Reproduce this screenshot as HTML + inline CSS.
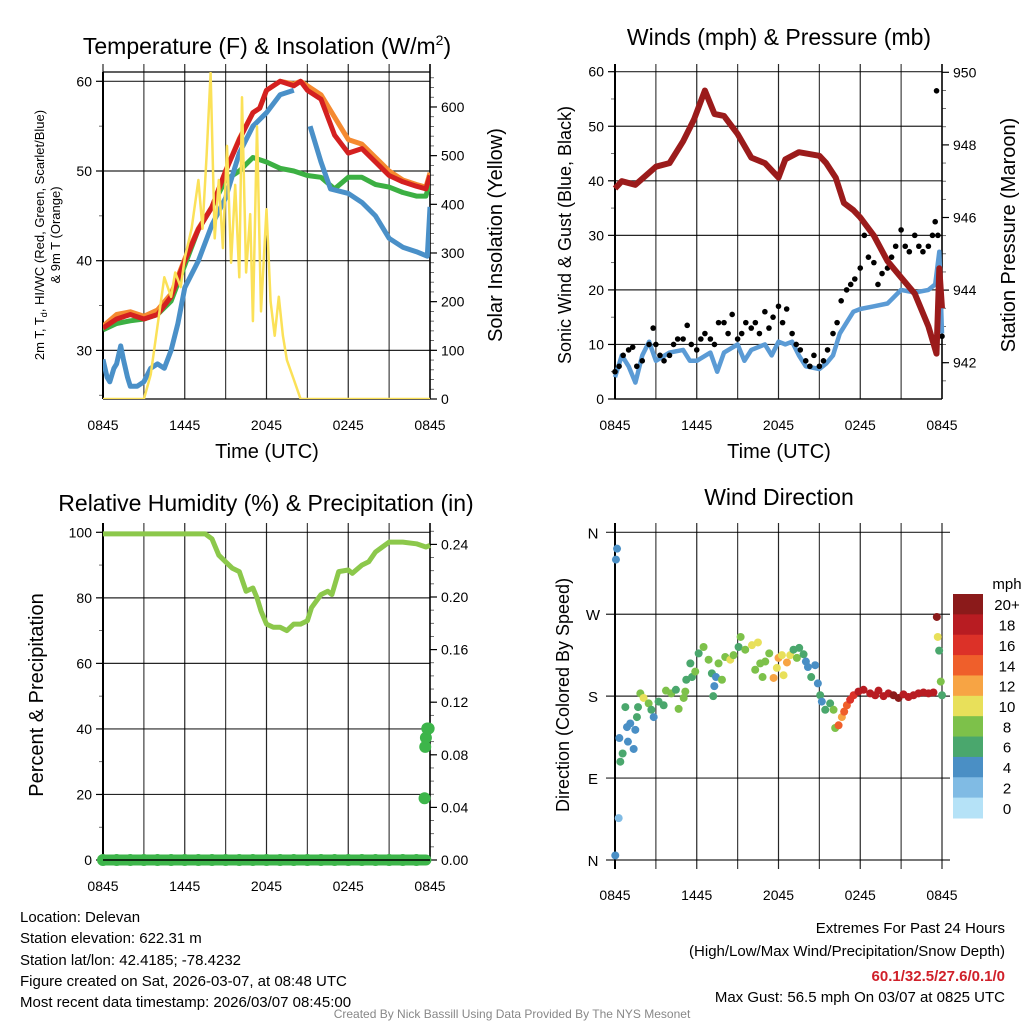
<!DOCTYPE html>
<html><head><meta charset="utf-8"><style>
html,body{margin:0;padding:0;background:#fff;}
svg{display:block;font-family:"Liberation Sans",sans-serif;}
</style></head><body>
<svg id="s" width="1024" height="1024" viewBox="0 0 1024 1024" xmlns="http://www.w3.org/2000/svg">
<rect width="1024" height="1024" fill="#fff"/>
<g id="g1"></g>
<g id="g2"></g>
<g id="g3"></g>
<g id="g4"></g>
<text x="267" y="54" font-size="23" text-anchor="middle">Temperature (F) &amp; Insolation (W/m<tspan dy="-9" font-size="14">2</tspan><tspan dy="9">)</tspan></text>
<text x="779" y="45" font-size="23" text-anchor="middle">Winds (mph) &amp; Pressure (mb)</text>
<text x="266" y="511" font-size="23" text-anchor="middle">Relative Humidity (%) &amp; Precipitation (in)</text>
<text x="779" y="505" font-size="23" text-anchor="middle">Wind Direction</text>
<text transform="translate(44,235) rotate(-90)" font-size="13" text-anchor="middle">2m T, T<tspan dy="3" font-size="9">d</tspan><tspan dy="-3">, HI/WC (Red, Green, Scarlet/Blue)</tspan></text>
<text transform="translate(60,235) rotate(-90)" font-size="13" text-anchor="middle">&amp; 9m T (Orange)</text>
<text transform="translate(502,235) rotate(-90)" font-size="20" text-anchor="middle">Solar Insolation (Yellow)</text>
<text transform="translate(571,235) rotate(-90)" font-size="18" text-anchor="middle">Sonic Wind &amp; Gust (Blue, Black)</text>
<text transform="translate(1015,235) rotate(-90)" font-size="20" text-anchor="middle">Station Pressure (Maroon)</text>
<text transform="translate(43,695) rotate(-90)" font-size="20" text-anchor="middle">Percent &amp; Precipitation</text>
<text transform="translate(569,695) rotate(-90)" font-size="18" text-anchor="middle">Direction (Colored By Speed)</text>
<text x="267" y="458" font-size="20" text-anchor="middle">Time (UTC)</text>
<text x="779" y="458" font-size="20" text-anchor="middle">Time (UTC)</text>
<g font-size="15">
<text x="20" y="922">Location: Delevan</text>
<text x="20" y="943">Station elevation: 622.31 m</text>
<text x="20" y="965">Station lat/lon: 42.4185; -78.4232</text>
<text x="20" y="986">Figure created on Sat, 2026-03-07, at 08:48 UTC</text>
<text x="20" y="1007">Most recent data timestamp: 2026/03/07 08:45:00</text>
</g>
<g font-size="15" text-anchor="end">
<text x="1005" y="933">Extremes For Past 24 Hours</text>
<text x="1005" y="956">(High/Low/Max Wind/Precipitation/Snow Depth)</text>
<text x="1005" y="981" fill="#d0202a" font-weight="bold">60.1/32.5/27.6/0.1/0</text>
<text x="1005" y="1002">Max Gust: 56.5 mph On 03/07 at 0825 UTC</text>
</g>
<text x="512" y="1018" font-size="12" fill="#888" text-anchor="middle">Created By Nick Bassill Using Data Provided By The NYS Mesonet</text>
</svg>
<script>
// ---- Data ----
const xTickLabels = ["0845","1445","2045","0245","0845"];
const redT = [0,1,2,3,4,5,6,7,8,9,10,11,11.5,12,13,14,14.5,15,16,17,18,19,20,21,22,23,23.7,24];
const redV = [32.5,33.5,34,33.5,34,36,40,43.5,46,50,53.5,56.5,57,59,60,59.5,60,59,58,54,52,52.5,51,49.5,48.8,48.3,48,49.5];
const orangeT = [0,1,2,3,4,5,6,7,8,9,10,11,11.5,12,13,14,14.5,15,16,17,18,19,20,21,22,23,23.7,24];
const orangeV = [32.7,34,34.3,33.8,34.5,36.3,40.2,43.6,46,50,53.6,56.5,57,59,60,59.7,60,59.5,58.5,56,53.5,53,51.5,50,49,48.5,48.2,49.8];
const greenT = [0,1,2,3,4,5,6,7,8,9,9.5,10,11,12,13,14,15,16,17,18,19,20,21,22,23,23.7,24];
const greenV = [32.3,33,33.3,33.5,34,35.5,39.5,43.5,46,49,49.5,50,51.5,51,50.3,50,49.5,49.3,48,49.3,49.3,48.5,48.2,47.6,47.2,47.2,48.8];
const blueT = [0,0.3,0.5,0.8,1,1.3,1.5,1.8,2,2.5,3,3.5,4,4.5,5,5.5,6,7,8,9,10,11,12,13,14,null,15.2,16,16.7,18,19,20,21,22,23,23.8,24];
const blueV = [29,27,26.5,28,28.5,30.5,29,27,26,26,26.5,28,28.5,28,30,33,37,40,44,47,52,55,56.5,58.5,59,null,55,51,48,47.5,46.5,45,42.5,41.5,41,40.5,46];
const solarT = [0,3,3.5,4,4.5,5,5.3,5.7,6,6.5,7,7.3,7.6,7.9,8.2,8.5,8.8,9.1,9.4,9.7,10,10.2,10.5,10.8,11,11.3,11.6,12,12.3,12.6,12.9,13.2,13.5,14,14.5,24];
const solarV = [0,0,50,150,250,210,260,230,290,350,450,350,500,670,330,450,310,520,280,440,250,620,260,380,160,560,180,390,200,130,210,130,80,40,0,0];

const presT = [0,0.5,1.5,3,4,5,5.8,6.6,7.3,8,9,10,11,12,12.5,13.5,15,15.5,16.2,16.8,17.5,18,19,20,21,22,23,23.6,23.8,24];
const presV = [946.8,947.0,946.9,947.4,947.5,948.1,948.7,949.5,948.85,948.8,948.3,947.65,947.5,947.1,947.6,947.8,947.7,947.5,947.1,946.4,946.2,946.0,945.5,944.8,944.35,943.9,943.0,942.25,944.6,943.5];
const windT = [0,0.5,1,1.5,2,2.5,3,4,5,5.5,6,7,7.5,8,9,9.5,10,11,11.5,12,12.5,13,13.5,14,15,15.5,16,16.5,17,17.5,18,19,20,21,22,23,23.5,23.8,24];
const windV = [4,8,6,3,8,10.5,7,8.5,9,7,7,8.5,5,8.5,10,7,9,10,8,10.5,10,10.5,8,6,5.5,6.5,8,12,14,16,16.5,17,17.5,20,19.5,20,21,27,12];
const gustT = [0,0.3,0.6,1,1.3,1.6,2,2.5,2.8,3,3.3,3.6,4,4.3,4.6,5,5.3,5.6,6,6.3,6.6,7,7.3,7.6,8,8.3,8.6,9,9.3,9.6,10,10.3,10.6,11,11.3,11.6,12,12.3,12.6,13,13.3,13.6,14,14.3,14.6,15,15.3,15.6,16,16.3,16.6,17,17.3,17.6,18,18.3,18.6,19,19.3,19.6,20,20.3,20.6,21,21.3,21.6,22,22.3,22.6,23,23.3,23.5,23.6,23.7,24];
const gustV = [5,6,8,9,9.5,6,7,10,13,10,8,7,8,10,11,11,13.5,10,9,11,12,11,10,14,14,12,15.5,11,12,14,13,14,12,16,13,15,17,14,16.5,12,10,9,7,6,8,6,7,9,12,14,18,20,21,22,24,30,26,25,21,23,24,26,28,31,28,27,30,28,27,28,30,32.5,56.5,30,11.5];

const rhT = [0,7.5,8,8.5,9,9.5,10,10.5,11,11.3,11.6,12,12.5,13,13.5,14,14.5,15,15.3,16,16.5,16.8,17.3,18,18.3,19,19.5,20,21,22,23,23.7,24];
const rhV = [99.5,99.5,98,93,91,89,88,82,83,80,76,72,71,71,70,72,72,73,77,81,82,81,88,88.5,87.5,90,91,94,97,97,96.5,95.5,96];
const precipT = [0,1,2,3,4,5,6,7,8,9,10,11,12,13,14,15,16,17,18,19,20,21,22,23,23.6,23.65,23.7,23.8,23.9];
const precipV = [0,0,0,0,0,0,0,0,0,0,0,0,0,0,0,0,0,0,0,0,0,0,0,0,0.047,0.086,0.093,0.1,0.1];

const dirT = [0.02,0.07,0.15,0.27,0.32,0.39,0.56,0.76,0.88,1.12,0.95,1.37,1.49,1.61,1.69,1.86,2.1,2.47,2.67,2.84,3.2,3.57,3.74,4.13,4.47,4.67,5.04,5.16,5.23,5.53,5.65,5.89,6.14,6.5,6.87,7.11,7.21,7.29,7.41,7.6,7.85,8.09,8.46,8.7,9.07,9.22,9.56,10.05,10.29,10.49,10.66,10.83,11.03,11.32,11.64,11.88,12.0,12.25,12.37,12.62,12.86,13.1,13.35,13.52,13.84,14.01,14.16,14.4,14.69,14.89,15.06,15.18,15.43,15.79,16.04,16.16,16.41,16.65,16.82,17.02,17.26,17.51,17.87,18.24,18.73,19.1,19.34,19.71,20.07,20.44,20.81,21.17,21.54,21.91,22.27,22.64,23.01,23.37,23.62,23.69,23.79,23.91,24.0];
const dirV = [5,330,342,46,134,108,117,168,146,150,130,122,143,157,168,183,178,172,165,157,174,170,186,183,187,166,178,185,198,216,201,207,227,234,220,205,180,191,201,216,198,223,220,225,234,245,231,236,209,239,216,201,218,227,200,211,222,225,203,217,225,231,222,233,226,218,212,201,214,194,181,174,165,172,165,145,148,157,163,170,176,181,185,187,183,181,186,180,183,181,178,182,179,181,183,184,183,184,267,245,230,196,181];
const dirS = [4,4,4,2,4,6,6,6,4,4,4,4,4,6,6,8,10,8,6,4,6,6,8,8,6,8,8,8,6,6,6,8,6,8,8,6,6,4,4,8,8,8,10,8,6,8,8,10,8,10,8,8,8,8,12,10,12,10,10,12,10,6,8,6,6,4,4,6,4,4,6,4,6,6,8,8,14,12,14,14,16,16,18,18,18,18,18,18,18,20,20,18,18,18,18,18,18,18,20,10,6,8,6];
const speedLabels = ["20+","18","16","14","12","10","8","6","4","2","0"];
const speedColors = ["#b5e2f7","#80bbe4","#4a8fc5","#4aa76d","#7dc14a","#e8e05a","#f7a444","#ef5f2b","#dc3128","#b81c22","#8b1a1a"];
const dirLabels = ["N","E","S","W","N"];

// ---- helpers ----
const NS = "http://www.w3.org/2000/svg";
function mk(parent, tag, attrs){ const e=document.createElementNS(NS,tag); for(const k in attrs) e.setAttribute(k,attrs[k]); parent.appendChild(e); return e; }
function txt(parent, x, y, s, size, anchor){ const e=mk(parent,'text',{x:x,y:y,'font-size':size,'text-anchor':anchor||'middle'}); e.textContent=s; return e; }
function pathFrom(T,V,xf,yf){ let d='',pen=false; const n=Math.min(T.length,V.length); for(let i=0;i<n;i++){ if(T[i]===null||V[i]===null){pen=false;continue;} d+=(pen?'L':'M')+xf(T[i]).toFixed(1)+','+yf(V[i]).toFixed(1); pen=true;} return d; }

function frame(g, x0, x1, top, bot, gtop){
  for(let h=0;h<=24;h+=3){ const x=x0+h*(x1-x0)/24; mk(g,'line',{x1:x,y1:gtop,x2:x,y2:bot,stroke:'#000','stroke-width':1.2,'stroke-opacity':h%6?0.75:0.85}); }
  xTickLabels.forEach((l,i)=>{ const t=txt(g,x0+i*(x1-x0)/4, bot+31, l, 14);   });
}
function yAxis(g, x, scale, vals, labels, side, minorVals, lineX0, lineX1, grid){
  const dir = side==='left'?-1:1;
  vals.forEach((v,i)=>{ const y=scale(v);
    mk(g,'line',{x1:x,y1:y,x2:x+dir*7,y2:y,stroke:'#000','stroke-width':1.2});
    if(grid) mk(g,'line',{x1:lineX0,y1:y,x2:lineX1,y2:y,stroke:'#000','stroke-width':1.2,'stroke-opacity':0.85});
    const t=txt(g, x+dir*11, y+5, labels[i], 14, side==='left'?'end':'start');  
  });
  (minorVals||[]).forEach(v=>{ const y=scale(v); mk(g,'line',{x1:x,y1:y,x2:x+dir*4,y2:y,stroke:'#000','stroke-width':0.8,'stroke-opacity':0.7}); });
}
function range(a,b,s){ const r=[]; for(let v=a; v<=b+1e-9; v+=s) r.push(+v.toFixed(4)); return r; }

// ---- Panel 1 ----
(function(){
  const g=document.getElementById('g1'); const x0=103,x1=430;
  const xs=t=>x0+t*(x1-x0)/24, yl=v=>81.3+(60-v)*8.97, yr=v=>399-v*0.4867;
  frame(g,x0,x1,72,399,64);
  yAxis(g,x0,yl,[30,40,50,60],["30","40","50","60"],'left',[25,35,45,55],x0,x1,true);
  yAxis(g,x1,yr,range(0,600,100),range(0,600,100).map(String),'right',range(0,660,20),0,0,false);
  mk(g,'line',{x1:x0,y1:72,x2:x1,y2:72,stroke:'#000','stroke-width':1.2});
  mk(g,'line',{x1:x0,y1:399,x2:x1,y2:399,stroke:'#000','stroke-width':1.2});
  mk(g,'line',{x1:x0,y1:72,x2:x0,y2:399,stroke:'#000','stroke-width':2});
  mk(g,'line',{x1:x1,y1:64,x2:x1,y2:399,stroke:'#000','stroke-width':1.5});
  const clip=mk(g,'clipPath',{id:'c1'}); mk(clip,'rect',{x:x0,y:72,width:x1-x0,height:327});
  const lines=[[greenT,greenV,'#3cb043',5,'dewpoint-line',yl],[blueT,blueV,'#4a90c8',5,'heat-index-wind-chill-line',yl],[orangeT,orangeV,'#f58a30',5,'temp-9m-line',yl],[redT,redV,'#d42020',5,'temp-2m-line',yl],[solarT,solarV,'#fbe158',2.5,'solar-line',yr]];
  lines.forEach(L=>{ const p=mk(g,'path',{d:pathFrom(L[0],L[1],xs,L[5]),fill:'none',stroke:L[2],'stroke-width':L[3],'stroke-linejoin':'round','clip-path':'url(#c1)'});
      });
})();

// ---- Panel 2 ----
(function(){
  const g=document.getElementById('g2'); const x0=615,x1=942;
  const xs=t=>x0+t*(x1-x0)/24, yl=v=>399-v*5.455, yr=p=>399-(p-941)*36.3;
  frame(g,x0,x1,72,399,64);
  yAxis(g,x0,yl,range(0,60,10),range(0,60,10).map(String),'left',[5,15,25,35,45,55],x0,x1,true);
  yAxis(g,x1,yr,[942,944,946,948,950],["942","944","946","948","950"],'right',range(941.5,949.5,0.5),0,0,false);
  mk(g,'line',{x1:x0,y1:399,x2:x1,y2:399,stroke:'#000','stroke-width':1.2});
  mk(g,'line',{x1:x0,y1:64,x2:x0,y2:399,stroke:'#000','stroke-width':2});
  mk(g,'line',{x1:x1,y1:64,x2:x1,y2:399,stroke:'#000','stroke-width':1.5});
  const w=mk(g,'path',{d:pathFrom(windT,windV,xs,yl),fill:'none',stroke:'#5b9bd5','stroke-width':4.5,'stroke-linejoin':'round'});
   
  const ng=Math.min(gustT.length,gustV.length);
  for(let i=0;i<ng;i++){ const c=mk(g,'circle',{cx:xs(gustT[i]),cy:yl(gustV[i]),r:2.8,fill:'#000'});
      }
  const p=mk(g,'path',{d:pathFrom(presT,presV,xs,yr),fill:'none',stroke:'#9b1b1b','stroke-width':6,'stroke-linejoin':'round'});
   
})();

// ---- Panel 3 ----
(function(){
  const g=document.getElementById('g3'); const x0=103,x1=430;
  const xs=t=>x0+t*(x1-x0)/24, yl=v=>860-v*3.277, yr=v=>860-v*1315;
  frame(g,x0,x1,523,860,523);
  yAxis(g,x0,yl,range(0,100,20),range(0,100,20).map(String),'left',[10,30,50,70,90],x0,x1,true);
  yAxis(g,x1,yr,range(0,0.24,0.04),["0.00","0.04","0.08","0.12","0.16","0.20","0.24"],'right',range(0,0.25,0.01),0,0,false);
  mk(g,'line',{x1:x0,y1:523,x2:x0,y2:860,stroke:'#000','stroke-width':2});
  mk(g,'line',{x1:x1,y1:523,x2:x1,y2:860,stroke:'#000','stroke-width':1.5});
  const base=mk(g,'line',{x1:xs(0),y1:860,x2:xs(23.7),y2:860,stroke:'#3db54a','stroke-width':11,'stroke-linecap':'round'});
   
  const np=Math.min(precipT.length,precipV.length);
  for(let i=0;i<np;i++){ const c=mk(g,'circle',{cx:xs(precipT[i]),cy:yr(precipV[i]),r:6,fill:'#3db54a'});
      }
  mk(g,'line',{x1:x0,y1:860,x2:x1,y2:860,stroke:'#000','stroke-width':1.5});
  const r=mk(g,'path',{d:pathFrom(rhT,rhV,xs,yl),fill:'none',stroke:'#8cc84b','stroke-width':5,'stroke-linejoin':'round'});
   
})();

// ---- Panel 4 ----
(function(){
  const g=document.getElementById('g4'); const x0=615,x1=942;
  const xs=t=>x0+t*(x1-x0)/24, yl=d=>860-d*0.9103;
  frame(g,x0,x1,532,869,523);
  [0,90,180,270,360].forEach((d,i)=>{ const y=yl(d);
    mk(g,'line',{x1:606,y1:y,x2:950,y2:y,stroke:'#000','stroke-width':1.2,'stroke-opacity':0.85});
    const t=txt(g,593,y+6,dirLabels[i],15,'middle');   });
  mk(g,'line',{x1:x0,y1:523,x2:x0,y2:869,stroke:'#000','stroke-width':2});
  const nd=Math.min(dirT.length,dirV.length,dirS.length);
  for(let i=0;i<nd;i++){ const idx=Math.min(10,Math.floor(dirS[i]/2));
    const c=mk(g,'circle',{cx:xs(dirT[i]),cy:yl(dirV[i]),r:4,fill:speedColors[idx]});
      }
  const lg=mk(g,'g',{});  
  const bh=224/11;
  speedLabels.forEach((l,i)=>{ const y=594+i*bh;
    const r=mk(lg,'rect',{x:953,y:y,width:30,height:bh+0.5,fill:speedColors[10-i]});
     
    txt(lg,1007,y+bh/2+6,l,15,'middle'); });
  txt(lg,1007,589,'mph',15,'middle');
})();
</script>
</body></html>
